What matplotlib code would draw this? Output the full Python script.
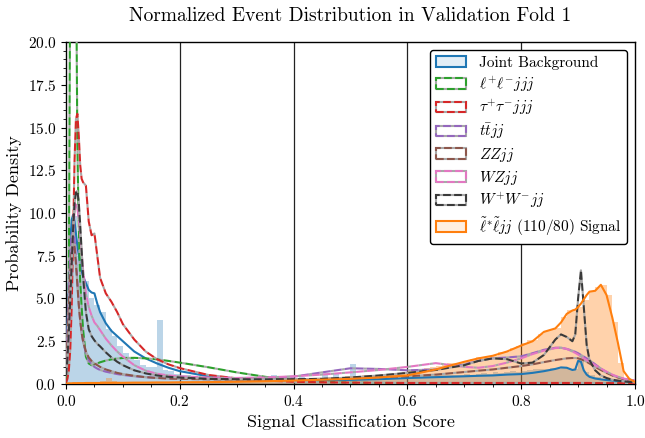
import matplotlib
matplotlib.use("Agg")
import matplotlib.pyplot as plt
import numpy as np
from matplotlib.patches import Patch
from matplotlib.ticker import MultipleLocator

plt.rcParams["font.family"] = "serif"
plt.rcParams["font.serif"] = ["cmr10"]
plt.rcParams["mathtext.fontset"] = "cm"
plt.rcParams["axes.formatter.use_mathtext"] = True
plt.rcParams["axes.unicode_minus"] = False

# histogram heights, 100 bins of width 0.01 on [0, 1]
bg_hist = [
    3.0, 9.8, 7.5, 6.0, 5.0, 4.6, 4.2, 3.2, 2.8, 2.2,
    1.8, 1.5, 1.4, 1.1, 1.0, 1.0, 3.75, 0.8, 0.75, 0.6,
    0.55, 0.5, 0.45, 0.4, 0.4, 0.35, 0.35, 0.3, 0.3, 0.3,
    0.25, 0.25, 0.25, 0.2, 0.2, 0.25, 0.5, 0.25, 0.2, 0.2,
    0.2, 0.4, 0.2, 0.2, 0.25, 0.65, 0.3, 0.65, 0.3, 0.3,
    1.15, 0.3, 0.3, 0.3, 0.35, 0.35, 0.3, 0.35, 0.4, 0.35,
    0.4, 0.4, 0.45, 0.5, 0.45, 0.5, 0.5, 0.55, 0.5, 0.55,
    0.6, 0.55, 0.6, 0.65, 0.6, 0.7, 0.65, 0.7, 0.75, 0.7,
    0.75, 0.8, 0.85, 0.9, 0.85, 0.95, 0.9, 1.0, 0.9, 0.85,
    1.5, 0.7, 0.5, 0.4, 0.3, 0.25, 0.2, 0.15, 0.12, 0.1,
]
sig_hist = [
    0.03, 0.08, 0.1, 0.12, 0.1, 0.12, 0.2, 0.35, 0.15, 0.1,
    0.1, 0.08, 0.1, 0.08, 0.1, 0.1, 0.12, 0.1, 0.1, 0.1,
    0.1, 0.12, 0.1, 0.1, 0.12, 0.12, 0.15, 0.12, 0.15, 0.15,
    0.15, 0.18, 0.15, 0.2, 0.18, 0.2, 0.2, 0.22, 0.2, 0.25,
    0.25, 0.25, 0.3, 0.3, 0.3, 0.35, 0.35, 0.4, 0.4, 0.45,
    0.45, 0.4, 0.5, 0.5, 0.55, 0.5, 0.55, 0.6, 0.6, 0.7,
    0.75, 0.8, 0.85, 0.95, 1.0, 1.05, 1.1, 1.25, 1.2, 1.3,
    1.35, 1.45, 1.55, 1.5, 1.6, 1.65, 1.9, 1.85, 2.1, 2.2,
    2.4, 2.55, 2.6, 2.9, 3.1, 3.2, 3.3, 3.9, 4.3, 4.35,
    4.5, 4.9, 5.4, 5.7, 5.8, 5.2, 3.6, 1.2, 0.3, 0.1,
]

# density curves, sampled on a shared score grid
score = [
    0.0, 0.0025, 0.005, 0.0075, 0.01, 0.0125, 0.015, 0.0175, 0.02, 0.0225,
    0.025, 0.0275, 0.03, 0.035, 0.04, 0.045, 0.05, 0.055, 0.06, 0.07,
    0.08, 0.09, 0.10, 0.12, 0.14, 0.16, 0.18, 0.20, 0.25, 0.30,
    0.35, 0.40, 0.45, 0.50, 0.55, 0.60, 0.65, 0.70, 0.725, 0.75,
    0.775, 0.80, 0.82, 0.84, 0.86, 0.87, 0.88, 0.89, 0.895, 0.90,
    0.905, 0.91, 0.915, 0.92, 0.93, 0.94, 0.95, 0.96, 0.97, 0.98,
    0.99, 1.0,
]
joint_bg = [
    1.5, 3.5, 6.0, 8.3, 9.6, 9.9, 9.5, 8.8, 8.1, 7.5,
    7.0, 6.6, 6.3, 5.9, 5.5, 5.35, 5.3, 4.7, 4.2, 3.55,
    3.1, 2.8, 2.5, 1.9, 1.5, 1.2, 0.95, 0.75, 0.45, 0.32,
    0.25, 0.22, 0.22, 0.24, 0.28, 0.35, 0.4, 0.45, 0.48, 0.5,
    0.55, 0.58, 0.65, 0.75, 0.88, 0.97, 0.95, 0.82, 0.85, 1.35,
    1.3, 0.8, 0.55, 0.42, 0.32, 0.27, 0.23, 0.2, 0.17, 0.14,
    0.12, 0.1,
]
ll_jjj = [
    0.3, 1.0, 6.0, 25.0, 45.0, 50.0, 40.0, 26.0, 14.0, 9.0,
    6.0, 4.5, 3.2, 1.6, 1.2, 1.1, 1.15, 1.2, 1.27, 1.37,
    1.44, 1.49, 1.52, 1.53, 1.5, 1.44, 1.35, 1.25, 0.98, 0.68,
    0.42, 0.22, 0.12, 0.08, 0.06, 0.05, 0.05, 0.04, 0.04, 0.04,
    0.04, 0.04, 0.04, 0.04, 0.04, 0.04, 0.04, 0.04, 0.04, 0.04,
    0.04, 0.04, 0.04, 0.04, 0.03, 0.03, 0.03, 0.03, 0.03, 0.03,
    0.03, 0.03,
]
tautau_jjj = [
    0.1, 0.3, 0.8, 2.0, 4.5, 8.5, 13.0, 15.5, 15.8, 14.5,
    12.8, 12.0, 11.8, 11.6, 9.5, 8.7, 8.8, 7.5, 6.2, 5.3,
    4.8, 4.2, 3.5, 2.6, 1.9, 1.45, 1.15, 0.93, 0.53, 0.33,
    0.2, 0.13, 0.1, 0.08, 0.07, 0.06, 0.06, 0.06, 0.06, 0.06,
    0.06, 0.06, 0.06, 0.06, 0.06, 0.06, 0.06, 0.06, 0.06, 0.06,
    0.06, 0.06, 0.06, 0.06, 0.05, 0.05, 0.05, 0.05, 0.05, 0.05,
    0.05, 0.05,
]
ttbar_jj = [
    1.0, 3.0, 5.5, 7.5, 8.7, 9.0, 8.5, 7.4, 6.0, 4.7,
    3.7, 3.0, 2.5, 1.8, 1.4, 1.15, 1.0, 0.9, 0.82, 0.72,
    0.65, 0.58, 0.53, 0.45, 0.4, 0.36, 0.33, 0.32, 0.32, 0.35,
    0.36, 0.43, 0.68, 0.92, 0.88, 0.8, 0.85, 1.15, 1.35, 1.5,
    1.55, 1.62, 1.8, 2.0, 2.12, 2.12, 2.05, 1.95, 1.88, 1.8,
    1.7, 1.6, 1.5, 1.4, 1.15, 0.9, 0.7, 0.52, 0.4, 0.3,
    0.25, 0.2,
]
zz_jj = [
    0.8, 2.5, 4.5, 6.5, 7.8, 8.3, 8.0, 7.0, 5.8, 4.6,
    3.7, 3.0, 2.5, 1.9, 1.55, 1.35, 1.2, 1.1, 1.0, 0.85,
    0.75, 0.65, 0.58, 0.48, 0.4, 0.35, 0.32, 0.3, 0.27, 0.25,
    0.25, 0.27, 0.3, 0.35, 0.4, 0.45, 0.55, 0.7, 0.78, 0.85,
    0.95, 1.05, 1.15, 1.28, 1.4, 1.45, 1.5, 1.52, 1.52, 1.5,
    1.45, 1.38, 1.3, 1.2, 1.0, 0.82, 0.65, 0.5, 0.38, 0.28,
    0.2, 0.15,
]
wz_jj = [
    0.5, 1.5, 3.0, 5.0, 7.0, 8.8, 10.0, 10.5, 10.3, 9.6,
    8.7, 7.7, 6.7, 5.3, 4.5, 4.0, 3.6, 3.4, 3.15, 2.65,
    2.25, 1.9, 1.6, 1.1, 0.78, 0.6, 0.5, 0.45, 0.38, 0.35,
    0.38, 0.45, 0.55, 0.68, 0.82, 1.0, 1.22, 1.0, 0.95, 1.05,
    1.25, 1.5, 1.75, 1.95, 2.1, 2.12, 2.05, 1.9, 1.82, 1.72,
    1.6, 1.5, 1.4, 1.3, 1.1, 0.9, 0.72, 0.55, 0.42, 0.32,
    0.25, 0.2,
]
ww_jj = [
    0.5, 1.5, 3.0, 5.0, 7.0, 9.0, 10.5, 11.2, 11.3, 10.6,
    9.3, 7.8, 6.3, 4.2, 3.2, 2.8, 2.55, 2.35, 2.2, 1.85,
    1.55, 1.3, 1.1, 0.8, 0.62, 0.5, 0.42, 0.38, 0.3, 0.28,
    0.27, 0.28, 0.3, 0.38, 0.5, 0.65, 0.82, 1.1, 1.35, 1.5,
    1.45, 1.2, 1.25, 1.7, 2.6, 2.9, 2.75, 2.5, 2.9, 5.0,
    6.65, 4.5, 2.3, 1.4, 0.8, 0.5, 0.35, 0.25, 0.2, 0.15,
    0.12, 0.1,
]
signal = [
    0.03, 0.03, 0.04, 0.04, 0.04, 0.05, 0.05, 0.05, 0.05, 0.05,
    0.05, 0.05, 0.05, 0.06, 0.06, 0.06, 0.06, 0.06, 0.06, 0.07,
    0.07, 0.07, 0.07, 0.08, 0.08, 0.09, 0.09, 0.1, 0.11, 0.13,
    0.16, 0.2, 0.25, 0.3, 0.38, 0.5, 0.85, 1.3, 1.5, 1.65,
    1.9, 2.25, 2.5, 3.05, 3.25, 3.6, 4.1, 4.3, 4.35, 4.5,
    4.7, 4.95, 5.2, 5.4, 5.45, 5.8, 5.2, 3.9, 2.4, 0.75,
    0.3, 0.12,
]

gap = "#a8a8a8"
bg_lines = [
    (ll_jjj, "tab:green", r"$\ell^{+}\ell^{-}jjj$"),
    (tautau_jjj, "tab:red", r"$\tau^{+}\tau^{-}jjj$"),
    (ttbar_jj, "tab:purple", r"$t\bar{t}jj$"),
    (zz_jj, "tab:brown", r"$ZZjj$"),
    (wz_jj, "tab:pink", r"$WZjj$"),
    (ww_jj, "#3a3a3a", r"$W^{+}W^{-}jj$"),
]

fig = plt.figure(figsize=(6.45, 4.38), dpi=100)
ax = fig.add_axes([0.1023, 0.1233, 0.8822, 0.7808])

edges = np.linspace(0, 1, len(bg_hist) + 1)
ax.bar(edges[:-1], bg_hist, width=np.diff(edges), align="edge",
       color="tab:blue", alpha=0.3, lw=0, zorder=1)
ax.bar(edges[:-1], sig_hist, width=np.diff(edges), align="edge",
       color="tab:orange", alpha=0.35, lw=0, zorder=1)

for xv in [0.2, 0.4, 0.6, 0.8]:
    ax.axvline(xv, color="#222222", lw=0.9, zorder=0.5)

ax.plot(score, joint_bg, color="tab:blue", lw=1.5, zorder=3)
handles = [(Patch(facecolor=(0.12, 0.47, 0.71, 0.12), edgecolor="tab:blue", lw=1.5))]
labels = ["Joint Background"]
for vals, col, lab in bg_lines:
    ax.plot(score, vals, color=col, ls="--", gapcolor=gap, lw=1.5, zorder=3)
    handles.append((Patch(facecolor="none", edgecolor=gap, lw=1.5),
                    Patch(facecolor="none", edgecolor=col, lw=1.5, ls="--")))
    labels.append(lab)
ax.plot(score, signal, color="tab:orange", lw=1.5, zorder=3)
handles.append(Patch(facecolor=(1.0, 0.5, 0.05, 0.12), edgecolor="tab:orange", lw=1.5))
labels.append(r"$\tilde{\ell}^{*}\tilde{\ell}jj$ (110/80) Signal")

ax.set_xlim(0, 1)
ax.set_ylim(0, 20)
ax.xaxis.set_major_locator(MultipleLocator(0.2))
ax.xaxis.set_minor_locator(MultipleLocator(0.05))
ax.yaxis.set_major_locator(MultipleLocator(2.5))
ax.yaxis.set_minor_locator(MultipleLocator(0.5))
ax.tick_params(labelsize=11)
for s in ax.spines.values():
    s.set_linewidth(1.0)

ax.set_xlabel("Signal Classification Score", fontsize=13)
ax.set_ylabel("Probability Density", fontsize=13)
ax.set_title("Normalized Event Distribution in Validation Fold 1", fontsize=14, pad=15)

leg = ax.legend(handles, labels, loc="upper right", fontsize=11, labelspacing=0.3,
                frameon=True, fancybox=True, framealpha=1.0)
leg.get_frame().set_edgecolor("black")

fig.savefig("out.png", dpi=100)
